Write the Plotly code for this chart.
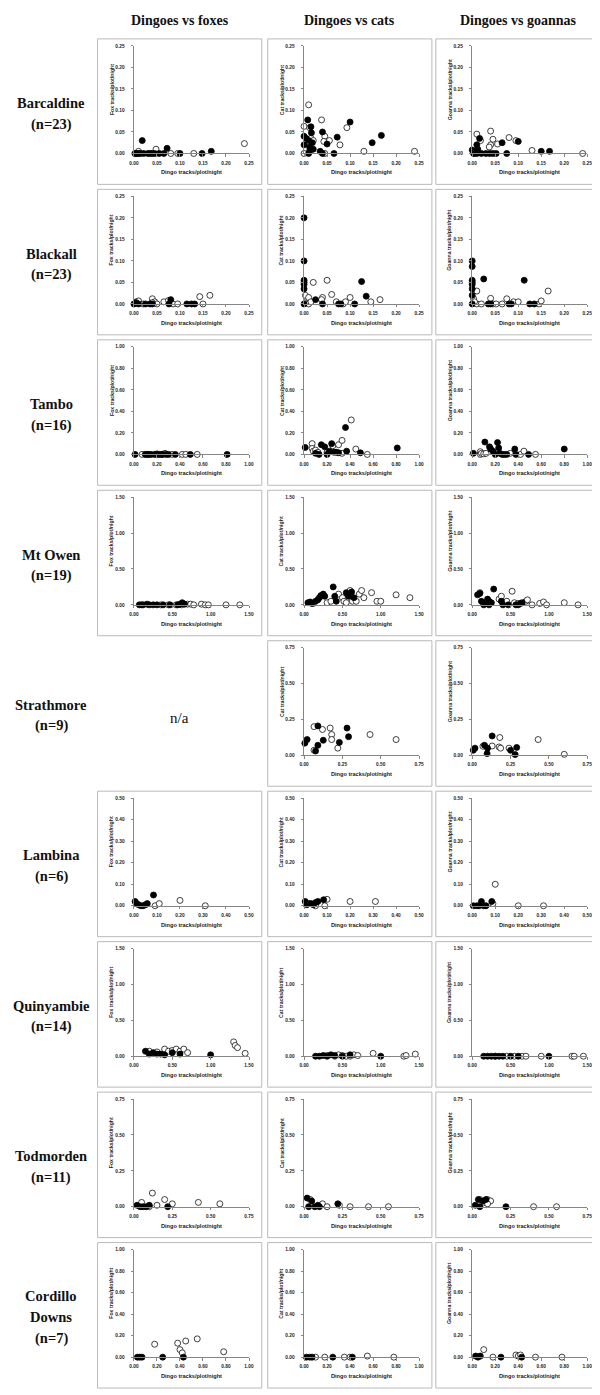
import plotly.graph_objects as go

W, H = 600, 1395

# ---------------- text ----------------
column_titles = ["Dingoes vs foxes", "Dingoes vs cats", "Dingoes vs goannas"]
y_titles = ["Fox tracks/plot/night", "Cat tracks/plot/night", "Goanna tracks/plot/night"]
x_title = "Dingo tracks/plot/night"
site_lines = [["Barcaldine"], ["Blackall"], ["Tambo"], ["Mt Owen"], ["Strathmore"],
              ["Lambina"], ["Quinyambie"], ["Todmorden"], ["Cordillo", "Downs"]]
n_values = [23, 23, 16, 19, 9, 6, 14, 11, 7]
axis_max = [0.25, 0.25, 1.00, 1.50, 0.75, 0.50, 1.50, 0.75, 1.00]
tick_step = [0.05, 0.05, 0.20, 0.50, 0.25, 0.10, 0.50, 0.25, 0.20]

# ---------------- data (x = dingo, y = other species) ----------------
# Barcaldine
bar_fox_filled = [(0.002, 0), (0.006, 0), (0.010, 0), (0.014, 0), (0.018, 0.030), (0.021, 0), (0.030, 0),
                  (0.035, 0), (0.040, 0), (0.045, 0), (0.055, 0), (0.065, 0), (0.072, 0.012), (0.100, 0),
                  (0.148, 0), (0.168, 0.005)]
bar_fox_open = [(0.005, 0), (0.010, 0.005), (0.048, 0.010), (0.080, 0), (0.095, 0), (0.130, 0), (0.240, 0.023)]
bar_cat_filled = [(0.000, 0.040), (0.000, 0.020), (0.005, 0.035), (0.008, 0.078), (0.010, 0.030), (0.012, 0.005),
                  (0.015, 0.062), (0.016, 0.048), (0.012, 0.015), (0.020, 0.010), (0.018, 0.025), (0.010, 0.000),
                  (0.035, 0.005), (0.040, 0.050), (0.040, 0.000), (0.050, 0.022), (0.065, 0.000), (0.072, 0.038),
                  (0.100, 0.073), (0.148, 0.025), (0.168, 0.042)]
bar_cat_open = [(0.000, 0.063), (0.000, 0.000), (0.010, 0.113), (0.012, 0.060), (0.015, 0.035), (0.020, 0.030),
                (0.038, 0.078), (0.045, 0.040), (0.043, 0.028), (0.055, 0.030), (0.078, 0.020), (0.093, 0.060),
                (0.130, 0.005), (0.240, 0.005), (0.045, 0.000)]
bar_goa_filled = [(0.000, 0.008), (0.003, 0), (0.005, 0.005), (0.010, 0.020), (0.012, 0.010), (0.016, 0.035),
                  (0.010, 0), (0.020, 0), (0.030, 0), (0.038, 0), (0.045, 0), (0.052, 0), (0.065, 0.025),
                  (0.075, 0), (0.100, 0.028), (0.150, 0.005), (0.168, 0.005)]
bar_goa_open = [(0.010, 0.045), (0.018, 0.030), (0.040, 0.052), (0.045, 0.033), (0.040, 0.020), (0.037, 0.015),
                (0.055, 0.022), (0.080, 0.037), (0.095, 0.030), (0.130, 0.007), (0.240, 0.000), (0.005, 0.000)]
# Blackall
bla_fox_filled = [(0.000, 0), (0.005, 0.003), (0.010, 0), (0.025, 0), (0.035, 0), (0.040, 0), (0.080, 0.010),
                  (0.076, 0), (0.115, 0), (0.125, 0), (0.132, 0)]
bla_fox_open = [(0.005, 0.005), (0.010, 0.007), (0.020, 0), (0.040, 0.012), (0.045, 0.005), (0.050, 0),
                (0.065, 0.005), (0.075, 0.008), (0.085, 0), (0.095, 0), (0.143, 0.017), (0.150, 0), (0.165, 0.020),
                (0.040, 0.003)]
bla_cat_filled = [(0.000, 0.200), (0.000, 0.100), (0.000, 0.055), (0.000, 0.050), (0.000, 0.045), (0.000, 0.035),
                  (0.000, 0.000), (0.025, 0.010), (0.040, 0.000), (0.075, 0.000), (0.080, 0.000), (0.110, 0.000),
                  (0.125, 0.052), (0.135, 0.018)]
bla_cat_open = [(0.005, 0.015), (0.003, 0.020), (0.010, 0.015), (0.010, 0.000), (0.015, 0.005), (0.020, 0.050),
                (0.040, 0.015), (0.038, 0.010), (0.050, 0.055), (0.060, 0.022), (0.070, 0.005), (0.085, 0.000),
                (0.090, 0.005), (0.100, 0.015), (0.145, 0.005), (0.165, 0.010)]
bla_goa_filled = [(0.000, 0.100), (0.000, 0.087), (0.000, 0.055), (0.000, 0.050), (0.000, 0.045), (0.000, 0.035),
                  (0.000, 0.020), (0.000, 0.000), (0.025, 0.058), (0.035, 0), (0.040, 0), (0.080, 0), (0.085, 0),
                  (0.113, 0.055), (0.125, 0), (0.135, 0)]
bla_goa_open = [(0.003, 0.012), (0.010, 0.030), (0.010, 0), (0.020, 0), (0.040, 0.013), (0.045, 0), (0.052, 0),
                (0.065, 0), (0.075, 0.012), (0.090, 0.005), (0.100, 0.005), (0.145, 0), (0.150, 0.007),
                (0.165, 0.030), (0.005, 0.005)]
# Tambo
tam_fox_filled = [(0.01, 0), (0.10, 0), (0.12, 0), (0.13, 0), (0.15, 0), (0.18, 0), (0.20, 0), (0.22, 0),
                  (0.24, 0), (0.25, 0), (0.28, 0), (0.30, 0), (0.36, 0), (0.49, 0), (0.81, 0)]
tam_fox_open = [(0.07, 0), (0.10, 0), (0.20, 0.005), (0.27, 0.010), (0.33, 0), (0.42, 0), (0.45, 0), (0.55, 0)]
tam_cat_filled = [(0.01, 0.065), (0.10, 0.010), (0.13, 0.000), (0.15, 0.090), (0.18, 0.070), (0.20, 0.000),
                  (0.22, 0.030), (0.24, 0.100), (0.26, 0.020), (0.28, 0.020), (0.30, 0.015), (0.36, 0.250),
                  (0.37, 0.030), (0.49, 0.015), (0.81, 0.060)]
tam_cat_open = [(0.07, 0.100), (0.07, 0.055), (0.08, 0.030), (0.10, 0.040), (0.12, 0.020), (0.20, 0.020),
                (0.25, 0.080), (0.30, 0.090), (0.33, 0.130), (0.41, 0.320), (0.33, 0.010), (0.45, 0.050),
                (0.55, 0.000)]
tam_goa_filled = [(0.01, 0.010), (0.11, 0.115), (0.15, 0.070), (0.16, 0.050), (0.18, 0.030), (0.20, 0.000),
                  (0.22, 0.110), (0.23, 0.060), (0.24, 0.010), (0.26, 0.000), (0.28, 0.000), (0.30, 0.000),
                  (0.37, 0.050), (0.38, 0.000), (0.49, 0.000), (0.80, 0.050)]
tam_goa_open = [(0.07, 0.025), (0.07, 0.000), (0.08, 0.010), (0.10, 0.005), (0.12, 0.010), (0.33, 0.010),
                (0.42, 0.000), (0.45, 0.030), (0.55, 0.000)]
# Mt Owen
mto_fox_filled = [(0.07, 0), (0.10, 0), (0.12, 0), (0.17, 0.01), (0.20, 0), (0.25, 0), (0.30, 0), (0.38, 0),
                  (0.47, 0), (0.57, 0), (0.60, 0.01), (0.63, 0.03), (0.66, 0.01)]
mto_fox_open = [(0.35, 0), (0.45, 0), (0.55, 0), (0.62, 0), (0.70, 0.01), (0.74, 0.01), (0.78, 0), (0.88, 0.01),
                (0.93, 0), (0.97, 0), (1.20, 0), (1.38, 0)]
mto_cat_filled = [(0.05, 0.03), (0.08, 0.04), (0.10, 0.02), (0.15, 0.05), (0.18, 0.07), (0.20, 0.10),
                  (0.22, 0.13), (0.25, 0.15), (0.27, 0.12), (0.38, 0.25), (0.40, 0.12), (0.42, 0.05),
                  (0.55, 0.17), (0.58, 0.12), (0.62, 0.18), (0.65, 0.10)]
mto_cat_open = [(0.12, 0.02), (0.30, 0.03), (0.35, 0.05), (0.45, 0.15), (0.50, 0.10), (0.52, 0.05), (0.55, 0.03),
                (0.60, 0.20), (0.63, 0.05), (0.68, 0.05), (0.72, 0.15), (0.75, 0.20), (0.78, 0.10), (0.88, 0.17),
                (0.95, 0.05), (1.00, 0.05), (1.20, 0.14), (1.38, 0.10)]
mto_goa_filled = [(0.07, 0.14), (0.10, 0.16), (0.12, 0.05), (0.15, 0.00), (0.18, 0.03), (0.20, 0.08), (0.22, 0.05),
                  (0.25, 0.03), (0.28, 0.22), (0.38, 0.05), (0.40, 0.00), (0.47, 0.00), (0.57, 0.00), (0.60, 0.00),
                  (0.63, 0.02), (0.65, 0.03), (0.22, 0.00)]
mto_goa_open = [(0.10, 0.17), (0.35, 0.08), (0.38, 0.12), (0.45, 0.05), (0.52, 0.19), (0.55, 0.03), (0.60, 0.02),
                (0.70, 0.05), (0.72, 0.07), (0.78, 0.00), (0.88, 0.02), (0.93, 0.04), (0.97, 0.00), (1.20, 0.03),
                (1.38, 0.00)]
# Strathmore (no fox data)
str_cat_filled = [(0.005, 0.085), (0.02, 0.11), (0.075, 0.03), (0.09, 0.205), (0.09, 0.07), (0.125, 0.105),
                  (0.23, 0.09), (0.28, 0.19), (0.29, 0.13)]
str_cat_open = [(0.065, 0.20), (0.065, 0.035), (0.12, 0.18), (0.17, 0.19), (0.18, 0.145), (0.18, 0.11),
                (0.22, 0.05), (0.43, 0.145), (0.60, 0.11)]
str_goa_filled = [(0.007, 0.035), (0.018, 0.05), (0.08, 0.07), (0.10, 0.05), (0.097, 0.012), (0.13, 0.135),
                  (0.25, 0.035), (0.28, 0.005), (0.29, 0.055)]
str_goa_open = [(0.07, 0.063), (0.13, 0.065), (0.175, 0.058), (0.18, 0.124), (0.185, 0.05), (0.24, 0.05),
                (0.43, 0.11), (0.60, 0.007)]
# Lambina
lam_fox_filled = [(0.005, 0.02), (0.012, 0.01), (0.02, 0.005), (0.03, 0), (0.04, 0), (0.05, 0.005),
                  (0.058, 0.01), (0.085, 0.05)]
lam_fox_open = [(0.092, 0), (0.11, 0.01), (0.20, 0.025), (0.31, 0)]
lam_cat_filled = [(0.005, 0.02), (0.012, 0.005), (0.02, 0.01), (0.03, 0.01), (0.04, 0.005), (0.05, 0.015),
                  (0.06, 0.02), (0.085, 0.028)]
lam_cat_open = [(0.05, 0), (0.09, 0), (0.10, 0.03), (0.20, 0.02), (0.31, 0.02)]
lam_goa_filled = [(0.005, 0), (0.02, 0), (0.03, 0), (0.04, 0.02), (0.05, 0), (0.06, 0), (0.085, 0.02)]
lam_goa_open = [(0.09, 0.01), (0.10, 0.10), (0.20, 0), (0.31, 0)]
# Quinyambie
qui_fox_filled = [(0.15, 0.07), (0.20, 0.03), (0.25, 0.05), (0.30, 0.03), (0.35, 0.03), (0.40, 0.02),
                  (0.50, 0.05), (0.60, 0.03), (1.00, 0.02)]
qui_fox_open = [(0.20, 0.07), (0.30, 0.06), (0.40, 0.10), (0.45, 0.07), (0.50, 0.08), (0.55, 0.10), (0.60, 0.07),
                (0.65, 0.10), (0.70, 0.05), (1.30, 0.20), (1.32, 0.15), (1.35, 0.12), (1.45, 0.04)]
qui_cat_filled = [(0.15, 0), (0.20, 0), (0.25, 0.01), (0.30, 0), (0.35, 0.02), (0.40, 0.01), (0.50, 0),
                  (0.60, 0.02), (1.00, 0)]
qui_cat_open = [(0.30, 0.01), (0.40, 0), (0.45, 0.02), (0.50, 0.01), (0.55, 0), (0.60, 0), (0.65, 0.02),
                (0.70, 0.01), (0.90, 0.04), (1.30, 0), (1.33, 0.01), (1.45, 0.03)]
qui_goa_filled = [(0.15, 0), (0.20, 0), (0.25, 0), (0.30, 0), (0.35, 0), (0.40, 0), (0.50, 0), (0.60, 0), (1.00, 0)]
qui_goa_open = [(0.30, 0), (0.45, 0), (0.55, 0), (0.65, 0), (0.70, 0), (0.90, 0), (1.30, 0), (1.33, 0), (1.45, 0)]
# Todmorden
tod_fox_filled = [(0.02, 0.01), (0.04, 0), (0.06, 0), (0.08, 0), (0.10, 0.01), (0.22, 0)]
tod_fox_open = [(0.05, 0.03), (0.10, 0), (0.12, 0.095), (0.15, 0.01), (0.20, 0.05), (0.25, 0.02), (0.42, 0.03),
                (0.56, 0.02)]
tod_cat_filled = [(0.02, 0.06), (0.03, 0), (0.05, 0.04), (0.07, 0), (0.09, 0.01), (0.10, 0), (0.22, 0.02)]
tod_cat_open = [(0.04, 0.05), (0.12, 0.02), (0.15, 0), (0.23, 0.01), (0.30, 0), (0.42, 0), (0.55, 0)]
tod_goa_filled = [(0.02, 0.01), (0.04, 0.05), (0.05, 0), (0.07, 0.04), (0.09, 0.05), (0.22, 0)]
tod_goa_open = [(0.05, 0.05), (0.08, 0.03), (0.10, 0.05), (0.12, 0.04), (0.10, 0.02), (0.40, 0), (0.55, 0)]
# Cordillo Downs
cor_fox_filled = [(0.03, 0), (0.05, 0), (0.07, 0), (0.25, 0), (0.43, 0)]
cor_fox_open = [(0.18, 0.12), (0.38, 0.13), (0.40, 0.07), (0.42, 0.04), (0.45, 0.15), (0.55, 0.17), (0.78, 0.05)]
cor_cat_filled = [(0.02, 0), (0.05, 0), (0.07, 0), (0.25, 0), (0.42, 0)]
cor_cat_open = [(0.10, 0), (0.18, 0), (0.35, 0), (0.40, 0), (0.55, 0.01), (0.78, 0)]
cor_goa_filled = [(0.03, 0.01), (0.05, 0), (0.07, 0.01), (0.25, 0), (0.43, 0)]
cor_goa_open = [(0.10, 0.07), (0.18, 0), (0.38, 0.02), (0.40, 0.01), (0.42, 0.02), (0.55, 0), (0.78, 0)]

panels = [
    [(bar_fox_filled, bar_fox_open), (bar_cat_filled, bar_cat_open), (bar_goa_filled, bar_goa_open)],
    [(bla_fox_filled, bla_fox_open), (bla_cat_filled, bla_cat_open), (bla_goa_filled, bla_goa_open)],
    [(tam_fox_filled, tam_fox_open), (tam_cat_filled, tam_cat_open), (tam_goa_filled, tam_goa_open)],
    [(mto_fox_filled, mto_fox_open), (mto_cat_filled, mto_cat_open), (mto_goa_filled, mto_goa_open)],
    [None, (str_cat_filled, str_cat_open), (str_goa_filled, str_goa_open)],
    [(lam_fox_filled, lam_fox_open), (lam_cat_filled, lam_cat_open), (lam_goa_filled, lam_goa_open)],
    [(qui_fox_filled, qui_fox_open), (qui_cat_filled, qui_cat_open), (qui_goa_filled, qui_goa_open)],
    [(tod_fox_filled, tod_fox_open), (tod_cat_filled, tod_cat_open), (tod_goa_filled, tod_goa_open)],
    [(cor_fox_filled, cor_fox_open), (cor_cat_filled, cor_cat_open), (cor_goa_filled, cor_goa_open)],
]

# ---------------- geometry (pixels) ----------------
COL_X0 = [123, 296, 467]
PLOT_W = 117
ROW_PITCH = 151
PLOT_TOP0 = 36
PLOT_H = 108
AX_COLOR = "#868686"
SANS = "Liberation Sans"
SERIF = "Liberation Serif"
MARKER_SIZE = 6


def px(x):
    return x / W


def py(y):
    return 1 - y / H


fig = go.Figure()
layout = dict(width=W, height=H, margin=dict(l=0, r=0, t=0, b=0),
              paper_bgcolor="white", plot_bgcolor="white", showlegend=False)
shapes, annotations = [], []

idx = 0
for r in range(9):
    top = PLOT_TOP0 + ROW_PITCH * r
    bottom = top + PLOT_H
    mx = axis_max[r]
    step = tick_step[r]
    nt = int(round(mx / step))
    tv = [round(i * step, 2) for i in range(nt + 1)]
    for c in range(3):
        x0 = COL_X0[c]
        x1 = x0 + PLOT_W
        if panels[r][c] is None:
            annotations.append(dict(x=px((x0 - 37 + x1 + 13) / 2), y=py(top + 71), xref="paper", yref="paper",
                                    text="n/a", showarrow=False, xanchor="center", yanchor="middle",
                                    font=dict(family=SERIF, size=15, color="#111")))
            continue
        idx += 1
        sfx = "" if idx == 1 else str(idx)
        filled, opened = panels[r][c]
        common_axis = dict(range=[0, mx], tickvals=tv, ticktext=[f"{v:.2f}" for v in tv],
                           showline=True, linecolor=AX_COLOR, linewidth=0.8, ticks="outside", ticklen=2.5,
                           tickwidth=0.8, tickcolor=AX_COLOR, showgrid=False, zeroline=False, fixedrange=True,
                           tickfont=dict(family=SANS, size=4.8, color="#222", weight="bold"))
        layout["xaxis" + sfx] = dict(common_axis, domain=[px(x0), px(x1)], anchor="y" + sfx,
                                     ticklabelstandoff=2)
        layout["yaxis" + sfx] = dict(common_axis, domain=[py(bottom), py(top)], anchor="x" + sfx,
                                     ticklabelstandoff=5)
        fig.add_trace(go.Scatter(x=[p[0] for p in opened], y=[p[1] for p in opened], mode="markers",
                                 xaxis="x" + sfx, yaxis="y" + sfx, cliponaxis=False,
                                 marker=dict(size=MARKER_SIZE, color="white", line=dict(color="#111", width=0.8))))
        fig.add_trace(go.Scatter(x=[p[0] for p in filled], y=[p[1] for p in filled], mode="markers",
                                 xaxis="x" + sfx, yaxis="y" + sfx, cliponaxis=False,
                                 marker=dict(size=MARKER_SIZE, color="black", line=dict(color="black", width=0.8))))
        # panel frame
        shapes.append(dict(type="rect", xref="paper", yref="paper", x0=px(x0 - 37), x1=px(x1 + 13),
                           y0=py(top + 139), y1=py(top - 7), line=dict(color="#bababa", width=1),
                           fillcolor="rgba(0,0,0,0)", layer="below"))
        # axis titles
        annotations.append(dict(x=px(x0 - 23), y=py(top + 44), xref="paper", yref="paper",
                                text=y_titles[c], textangle=-90, showarrow=False,
                                xanchor="center", yanchor="middle",
                                font=dict(family=SANS, size=5.2, color="#222", weight="bold")))
        annotations.append(dict(x=px((x0 + x1) / 2), y=py(top + 127), xref="paper", yref="paper",
                                text=x_title, showarrow=False, xanchor="center", yanchor="middle",
                                font=dict(family=SANS, size=5.6, color="#222", weight="bold")))

    # row labels
    lines = site_lines[r] + [f"(n={n_values[r]})"]
    center = top + 68
    gap = 21
    start = center - gap * (len(lines) - 1) / 2
    for k, t in enumerate(lines):
        annotations.append(dict(x=px(39), y=py(start + gap * k), xref="paper", yref="paper", text=t,
                                showarrow=False, xanchor="center", yanchor="middle",
                                font=dict(family=SERIF, size=14.5, color="#111", weight="bold")))

# column titles
for c, t in enumerate(column_titles):
    cx = (COL_X0[c] - 37 + COL_X0[c] + PLOT_W + 13) / 2
    annotations.append(dict(x=px(cx), y=py(11), xref="paper", yref="paper", text=t, showarrow=False,
                            xanchor="center", yanchor="middle",
                            font=dict(family=SERIF, size=14, color="#111", weight="bold")))

layout["shapes"] = shapes
layout["annotations"] = annotations
fig.update_layout(**layout)
fig.write_html("out.html")
